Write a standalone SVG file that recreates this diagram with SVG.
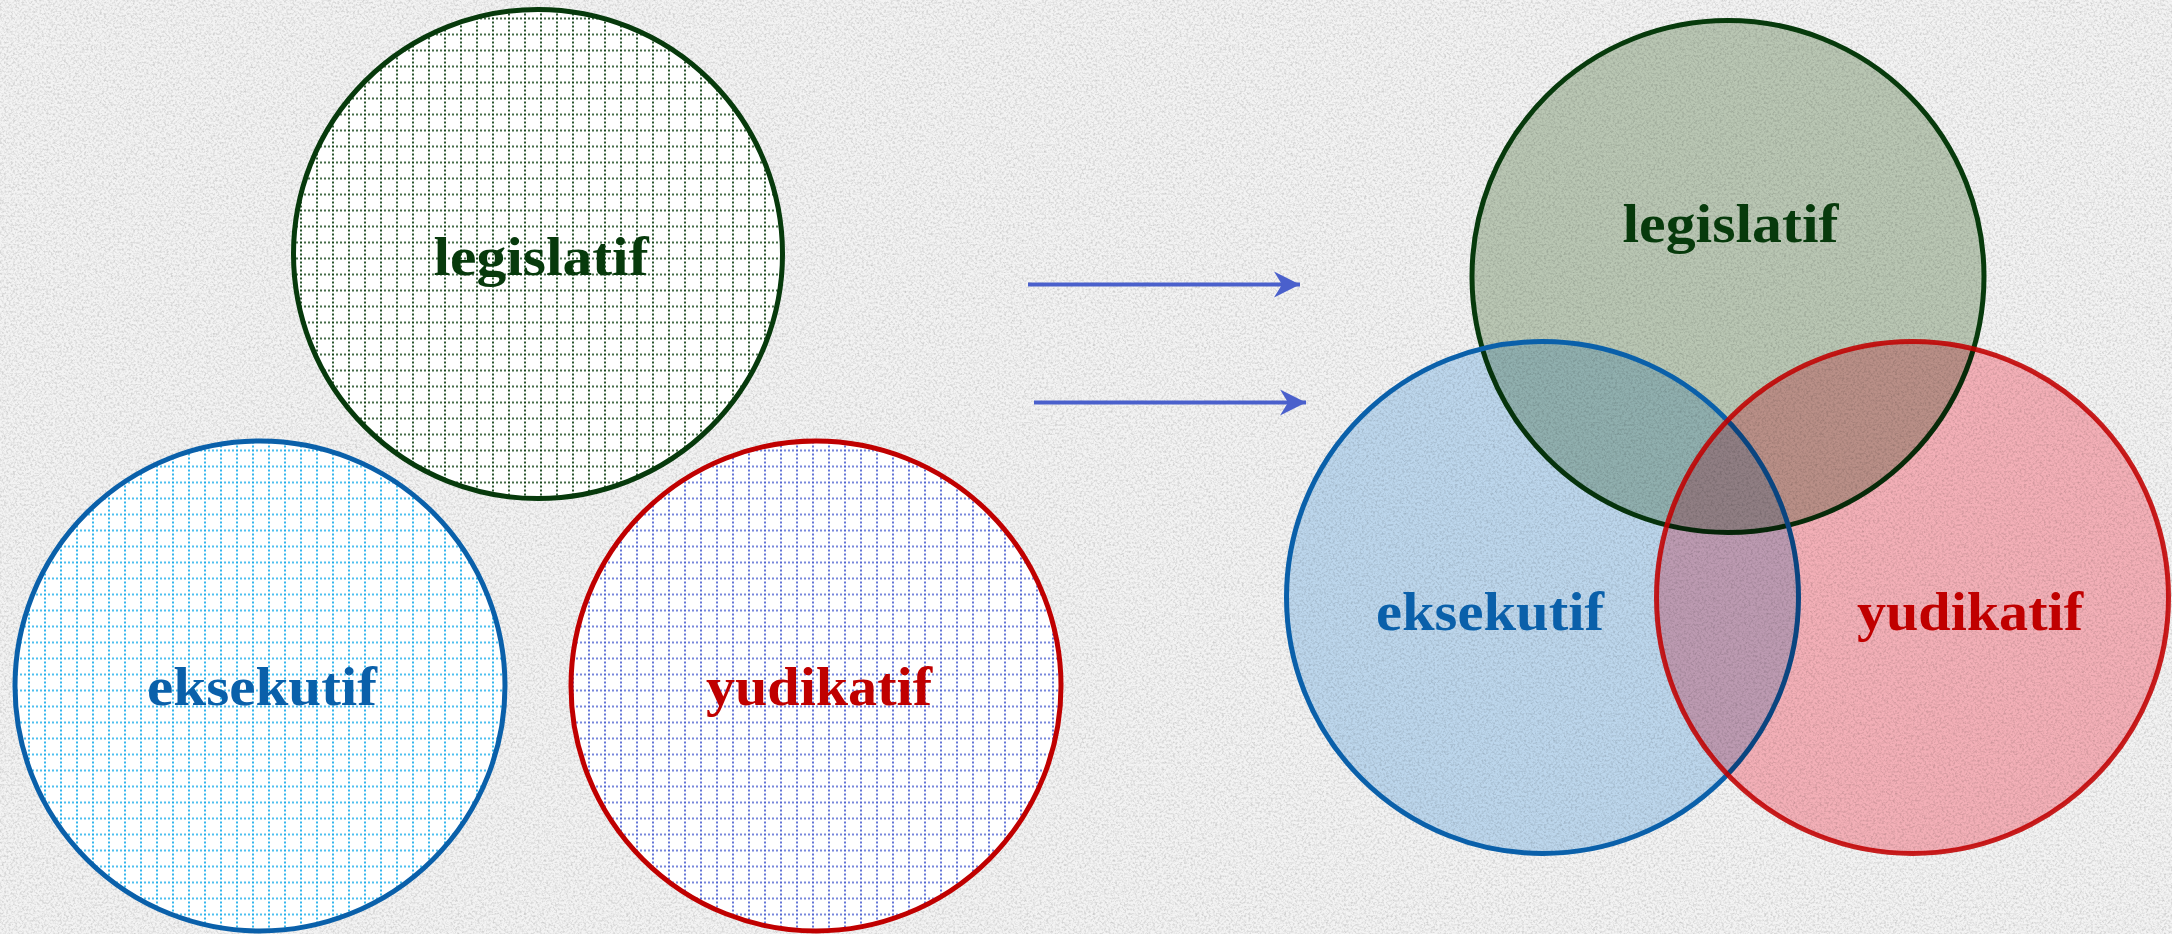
<svg xmlns="http://www.w3.org/2000/svg" width="2172" height="934" viewBox="0 0 2172 934">
<style>
.lbl{font-family:"Liberation Serif","DejaVu Serif",serif;font-weight:bold;font-size:55px;text-anchor:middle}
.g{fill:#073a0c}.b{fill:#0a60aa}.r{fill:#c00000}
.gridline{stroke-width:1.7;stroke-dasharray:2 2}
.arrow{stroke:#4a60cc;stroke-width:4;fill:none}
.mf{mix-blend-mode:multiply;stroke:none}
.ring{fill:none;stroke-width:5}
</style>
<defs>
<filter id="noise" x="0" y="0" width="100%" height="100%">
<feTurbulence type="fractalNoise" baseFrequency="0.45" numOctaves="3" seed="7" result="t"/>
<feColorMatrix in="t" type="matrix" values="0 0 0 0 0.5  0 0 0 0 0.5  0 0 0 0 0.5  1.5 0 0 0 -0.62"/>
</filter>
<pattern id="pg" patternUnits="userSpaceOnUse" x="12" y="1.5" width="16" height="16">
<rect width="16" height="16" fill="#fff"/>
<line class="gridline" x1="0" y1="1" x2="16" y2="1" stroke="#073a0c"/>
<line class="gridline" x1="1" y1="0" x2="1" y2="16" stroke="#073a0c"/>
</pattern>
<pattern id="pb" patternUnits="userSpaceOnUse" x="12" y="1.5" width="16" height="16">
<rect width="16" height="16" fill="#fff"/>
<line class="gridline" x1="0" y1="1" x2="16" y2="1" stroke="#14aaea"/>
<line class="gridline" x1="1" y1="0" x2="1" y2="16" stroke="#14aaea"/>
</pattern>
<pattern id="pr" patternUnits="userSpaceOnUse" x="12" y="1.5" width="16" height="16">
<rect width="16" height="16" fill="#fff"/>
<line class="gridline" x1="0" y1="1" x2="16" y2="1" stroke="#4a5fd0"/>
<line class="gridline" x1="1" y1="0" x2="1" y2="16" stroke="#4a5fd0"/>
</pattern>
<marker id="ah" markerUnits="userSpaceOnUse" markerWidth="30" markerHeight="30" refX="26" refY="15" orient="auto" viewBox="0 0 30 30">
<path d="M26,15 L0,2 L8,15 L0,28 Z" fill="#4a60cc"/>
</marker>
</defs>
<rect width="2172" height="934" fill="#f3f3f3"/>
<rect width="2172" height="934" filter="url(#noise)"/>

<g id="left-legislatif">
<circle cx="538" cy="254" r="244.5" fill="url(#pg)" stroke="#073a0c" stroke-width="5"/>
<text class="lbl g" x="541" y="275" textLength="215" lengthAdjust="spacingAndGlyphs">legislatif</text>
</g>
<g id="left-eksekutif">
<circle cx="260" cy="686" r="245" fill="url(#pb)" stroke="#0a60aa" stroke-width="5"/>
<text class="lbl b" x="262" y="705" textLength="230" lengthAdjust="spacingAndGlyphs">eksekutif</text>
</g>
<g id="left-yudikatif">
<circle cx="816" cy="686" r="245" fill="url(#pr)" stroke="#c00000" stroke-width="5"/>
<text class="lbl r" x="819" y="705" textLength="226" lengthAdjust="spacingAndGlyphs">yudikatif</text>
</g>

<g id="connectors">
<line class="arrow" x1="1028" y1="284.5" x2="1300" y2="284.5" marker-end="url(#ah)"/>
<line class="arrow" x1="1034" y1="402.5" x2="1306" y2="402.5" marker-end="url(#ah)"/>
</g>

<g id="right-legislatif">
<circle class="mf" cx="1728" cy="276.5" r="256" fill="#c2d0bc"/>
<circle class="ring" cx="1728" cy="276.5" r="256" stroke="#073a0c"/>
</g>
<g id="right-eksekutif">
<circle class="mf" cx="1542.5" cy="597.5" r="256" fill="#c6e1f8"/>
<circle class="ring" cx="1542.5" cy="597.5" r="256" stroke="#0a60aa"/>
</g>
<g id="right-yudikatif">
<circle class="mf" cx="1912.5" cy="597.5" r="256" fill="#ffb8c0"/>
<circle class="ring" cx="1912.5" cy="597.5" r="256" stroke="#c00000" stroke-opacity="0.88"/>
</g>
<g id="right-labels">
<text class="lbl g" x="1730.5" y="241.5" textLength="216" lengthAdjust="spacingAndGlyphs">legislatif</text>
<text class="lbl b" x="1490" y="630" textLength="228" lengthAdjust="spacingAndGlyphs">eksekutif</text>
<text class="lbl r" x="1970" y="630" textLength="226" lengthAdjust="spacingAndGlyphs">yudikatif</text>
</g>
</svg>
